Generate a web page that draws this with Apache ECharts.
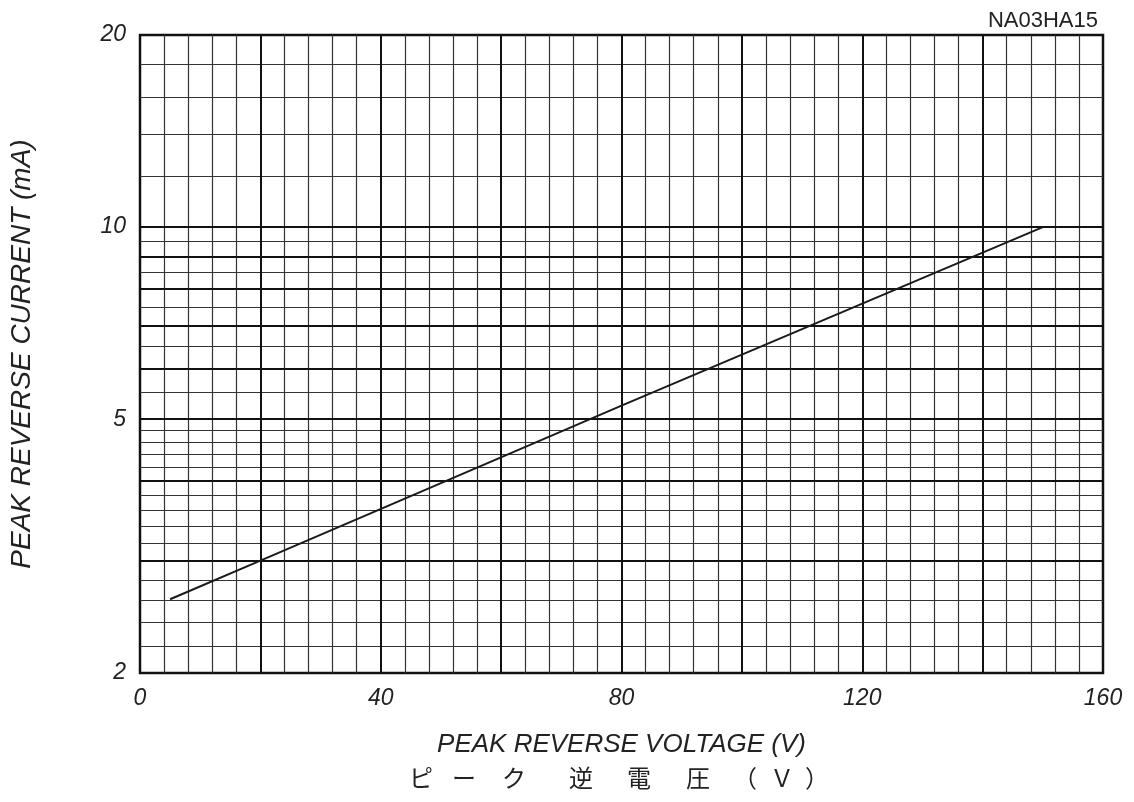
<!DOCTYPE html>
<html>
<head>
<meta charset="utf-8">
<script src="https://cdn.jsdelivr.net/npm/echarts@6/dist/echarts.min.js"></script>
<style>
html,body{margin:0;padding:0;background:#fff;}
#chart{width:1134px;height:802px;}
</style>
</head>
<body>
<div id="chart"></div>
<script>
// ---- data ----
const voltage = [5, 20, 80, 150];          // V
const current = [2.61, 3.0, 5.25, 10.0];   // mA

const xTickLabels = [0, 40, 80, 120, 160];
const yTickLabels = [2, 5, 10, 20];

const xMajorGrid = [20, 40, 60, 80, 100, 120, 140];
const xMinorGrid = [4, 8, 12, 16, 24, 28, 32, 36, 44, 48, 52, 56, 64, 68, 72, 76, 84, 88, 92, 96,
                    104, 108, 112, 116, 124, 128, 132, 136, 144, 148, 152, 156];
const yMajorGrid = [3, 4, 5, 6, 7, 8, 9, 10];
const yMinorGrid = [2.2, 2.4, 2.6, 2.8, 3.2, 3.4, 3.6, 3.8, 4.2, 4.4, 4.6, 4.8,
                    5.5, 6.5, 7.5, 8.5, 9.5, 12, 14, 16, 18];

const jpLabel = ['ピ', 'ー', 'ク', '逆', '電', '圧', '（', 'Ｖ', '）'];

// ---- chart ----
const chart = echarts.init(document.getElementById('chart'));
const ink = '#1a1a1a';
const minorStyle = { color: '#333', width: 1.2, type: 'solid' };
const majorStyle = { color: '#111', width: 2, type: 'solid' };

const gridLines = [];
xMinorGrid.forEach(v => gridLines.push({ xAxis: v, lineStyle: minorStyle }));
yMinorGrid.forEach(v => gridLines.push({ yAxis: v, lineStyle: minorStyle }));
xMajorGrid.forEach(v => gridLines.push({ xAxis: v, lineStyle: majorStyle }));
yMajorGrid.forEach(v => gridLines.push({ yAxis: v, lineStyle: majorStyle }));

const labelFont = { fontFamily: 'Liberation Sans', fontStyle: 'italic', fontSize: 23, color: '#222' };

// text layout for the spaced Japanese axis caption
const jpLeft = [409, 452, 502, 569, 627, 686, 733, 770, 805];
const graphics = jpLabel.map((ch, i) => ({
  type: 'text',
  left: jpLeft[i],
  top: 766,
  style: { text: ch, fontFamily: 'Noto Sans CJK JP', fontSize: 24, fill: '#222' }
}));

chart.setOption({
  animation: false,
  backgroundColor: '#fff',
  title: {
    text: 'NA03HA15',
    right: 31,
    top: 5,
    textStyle: { fontFamily: 'Liberation Sans', fontWeight: 'normal', fontSize: 22, color: '#222' }
  },
  grid: {
    left: 140, right: 31, top: 35, bottom: 129,
    show: true, borderColor: '#111', borderWidth: 2.5, backgroundColor: 'transparent'
  },
  xAxis: {
    type: 'value', min: 0, max: 160, interval: 40,
    axisLine: { show: false }, axisTick: { show: false }, splitLine: { show: false },
    axisLabel: Object.assign({ margin: 14, customValues: xTickLabels }, labelFont),
    name: 'PEAK REVERSE VOLTAGE (V)',
    nameLocation: 'middle', nameGap: 59,
    nameTextStyle: { fontFamily: 'Liberation Sans', fontStyle: 'italic', fontSize: 26, color: '#222' }
  },
  yAxis: {
    type: 'log', logBase: 10, min: 2, max: 20,
    axisLine: { show: false }, axisTick: { show: false }, splitLine: { show: false },
    minorTick: { show: false }, minorSplitLine: { show: false },
    axisLabel: Object.assign({ margin: 14, customValues: yTickLabels }, labelFont),
    name: 'PEAK REVERSE CURRENT (mA)',
    nameLocation: 'middle', nameGap: 104,
    nameTextStyle: { fontFamily: 'Liberation Sans', fontStyle: 'italic', fontSize: 28, color: '#222' }
  },
  graphic: graphics,
  series: [
    {
      type: 'line', data: [], silent: true, z: 1,
      markLine: { silent: true, symbol: 'none', label: { show: false }, animation: false, data: gridLines }
    },
    {
      type: 'line', z: 5, showSymbol: false, symbol: 'none',
      lineStyle: { color: ink, width: 2 },
      data: voltage.map((v, i) => [v, current[i]])
    }
  ]
});
</script>
</body>
</html>
